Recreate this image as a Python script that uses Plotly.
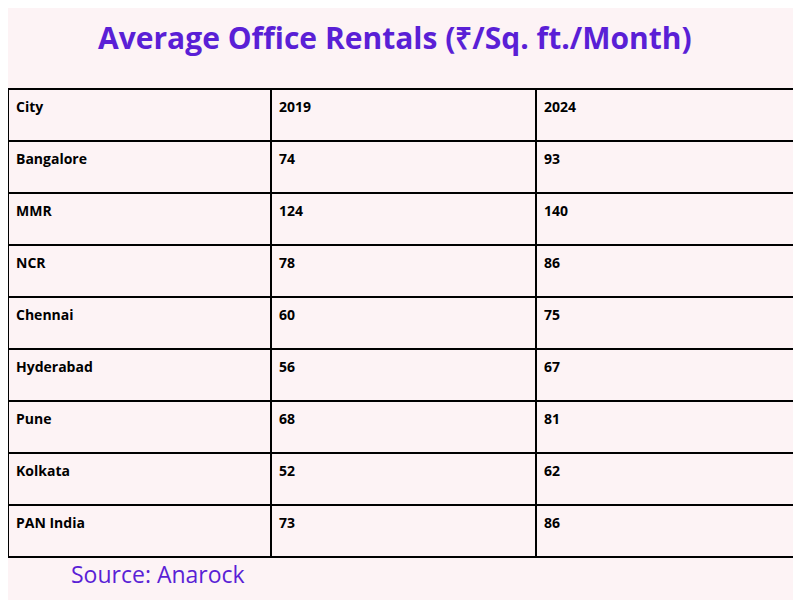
import plotly.graph_objects as go

cities = ["Bangalore", "MMR", "NCR", "Chennai", "Hyderabad", "Pune", "Kolkata", "PAN India"]
y2019 = [74, 124, 78, 60, 56, 68, 52, 73]
y2024 = [93, 140, 86, 75, 67, 81, 62, 86]
headers = ["City", "2019", "2024"]

bg = "#fdf3f5"
purple = "#5a1fd6"
W, H = 801, 600
OFF = 8  # page body offset

fig = go.Figure(go.Table(
    domain=dict(x=[0, (799-OFF)/W], y=[1-(560-OFF)/H, 1-(89-OFF)/H]),
    columnwidth=[265, 267, 265],
    header=dict(values=[f"<b>{h}</b>" for h in headers], fill_color=bg,
                line=dict(color="black", width=1.5), align="left", height=52,
                font=dict(family="Open Sans", size=14, color="black")),
    cells=dict(values=[[f"<b>{c}</b>" for c in cities],
                       [f"<b>{v}</b>" for v in y2019],
                       [f"<b>{v}</b>" for v in y2024]],
               fill_color=bg, line=dict(color="black", width=1.5), align="left", height=52,
               font=dict(family="Open Sans", size=14, color="black")),
))
fig.update_layout(
    width=W, height=H, margin=dict(l=0, r=0, t=0, b=0),
    paper_bgcolor=bg, plot_bgcolor=bg,
    annotations=[
        dict(text="<b>Average Office Rentals (₹/Sq. ft./Month)</b>", x=(395-OFF)/W, y=1-(37-OFF)/H,
             xref="paper", yref="paper", showarrow=False, xanchor="center", yanchor="middle",
             font=dict(family="Open Sans", size=30, color=purple)),
        dict(text="Source: Anarock", x=(69-OFF)/W, y=1-(574-OFF)/H, xref="paper", yref="paper",
             showarrow=False, xanchor="left", yanchor="middle",
             font=dict(family="Open Sans", size=23, color=purple)),
    ],
)
fig.write_html("out.html")
